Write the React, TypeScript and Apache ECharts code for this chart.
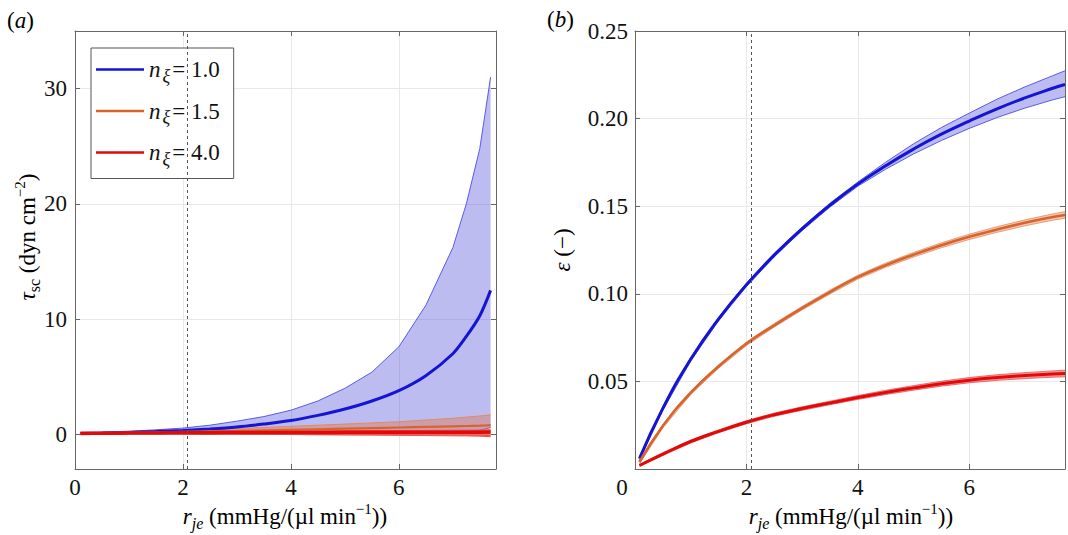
import React, { useEffect, useRef } from 'react';
import * as echarts from 'echarts';

const serif = 'Liberation Serif';

// ---------- Panel (a): wall shear stress tau_sc ----------
const rjeA = [0.1, 0.5, 1, 1.5, 2, 2.5, 3, 3.5, 4, 4.5, 5, 5.5, 6, 6.5, 7, 7.25, 7.5, 7.7];
const tauBlueMean = [0.1, 0.12, 0.17, 0.25, 0.35, 0.48, 0.65, 0.9, 1.2, 1.65, 2.2, 2.9, 3.8, 5.1, 7.0, 8.5, 10.3, 12.5];
const tauBlueUpper = [0.12, 0.18, 0.28, 0.4, 0.55, 0.8, 1.15, 1.55, 2.1, 2.9, 4.0, 5.4, 7.6, 11.2, 16.2, 20, 24.8, 31];
const tauBlueLower = [0.08, 0.09, 0.1, 0.11, 0.12, 0.13, 0.14, 0.15, 0.16, 0.17, 0.18, 0.2, 0.22, 0.25, 0.28, 0.3, 0.35, 0.6];
const tauOrangeMean = [0.1, 0.12, 0.15, 0.18, 0.22, 0.26, 0.3, 0.35, 0.4, 0.45, 0.5, 0.55, 0.6, 0.65, 0.7, 0.73, 0.76, 0.8];
const tauOrangeUpper = [0.12, 0.16, 0.22, 0.29, 0.36, 0.44, 0.52, 0.6, 0.7, 0.8, 0.9, 1.0, 1.1, 1.25, 1.4, 1.5, 1.6, 1.7];
const tauOrangeLower = [0.08, 0.07, 0.06, 0.05, 0.04, 0.03, 0.02, 0.01, 0, -0.01, -0.02, -0.03, -0.04, -0.05, -0.06, -0.07, -0.08, -0.1];
const tauRedMean = [0.08, 0.1, 0.12, 0.13, 0.14, 0.15, 0.16, 0.16, 0.17, 0.17, 0.18, 0.18, 0.18, 0.19, 0.19, 0.19, 0.19, 0.2];
const tauRedUpper = [0.1, 0.14, 0.18, 0.2, 0.22, 0.24, 0.26, 0.28, 0.3, 0.31, 0.32, 0.33, 0.34, 0.35, 0.36, 0.37, 0.38, 0.4];
const tauRedLower = [0.06, 0.06, 0.05, 0.04, 0.03, 0.02, 0.01, 0, -0.01, -0.03, -0.05, -0.06, -0.08, -0.1, -0.12, -0.13, -0.15, -0.2];

// ---------- Panel (b): strain epsilon ----------
const rjeB = [0.08, 0.5, 1, 1.5, 2, 2.5, 3, 3.5, 4, 4.5, 5, 5.5, 6, 6.5, 7, 7.5, 7.72];
const epsBlueMean = [0.006, 0.0346, 0.0626, 0.0856, 0.1051, 0.1221, 0.1371, 0.1506, 0.1626, 0.1731, 0.1826, 0.1911, 0.1986, 0.2056, 0.2118, 0.2173, 0.2195];
const epsBlueUpper = [0.007, 0.0356, 0.0636, 0.0866, 0.1061, 0.1231, 0.1381, 0.1517, 0.1638, 0.1751, 0.1856, 0.1949, 0.2031, 0.2111, 0.2181, 0.2245, 0.2273];
const epsBlueLower = [0.005, 0.0336, 0.0616, 0.0846, 0.1041, 0.1211, 0.1361, 0.1495, 0.1614, 0.1711, 0.1798, 0.1875, 0.1944, 0.2006, 0.206, 0.2107, 0.2125];
const epsOrangeMean = [0.004, 0.0245, 0.0435, 0.0585, 0.0715, 0.082, 0.0918, 0.101, 0.1095, 0.1163, 0.1223, 0.1277, 0.1325, 0.1367, 0.1405, 0.1438, 0.145];
const epsOrangeUpper = [0.005, 0.0255, 0.0445, 0.0595, 0.0725, 0.083, 0.0928, 0.1021, 0.1106, 0.1175, 0.1236, 0.1291, 0.134, 0.1383, 0.1422, 0.1456, 0.1469];
const epsOrangeLower = [0.003, 0.0235, 0.0425, 0.0575, 0.0705, 0.081, 0.0908, 0.0999, 0.1084, 0.1151, 0.121, 0.1263, 0.131, 0.1351, 0.1388, 0.142, 0.1431];
const epsRedMean = [0.002, 0.0085, 0.0157, 0.0215, 0.0267, 0.031, 0.0345, 0.0377, 0.0408, 0.0437, 0.0463, 0.0487, 0.0507, 0.0522, 0.0533, 0.0542, 0.0545];
const epsRedUpper = [0.0025, 0.0093, 0.0165, 0.0223, 0.0276, 0.0319, 0.0355, 0.0387, 0.0419, 0.0449, 0.0476, 0.0501, 0.0522, 0.0538, 0.055, 0.056, 0.0564];
const epsRedLower = [0.0015, 0.0077, 0.0149, 0.0207, 0.0258, 0.0301, 0.0335, 0.0367, 0.0397, 0.0425, 0.045, 0.0473, 0.0492, 0.0506, 0.0516, 0.0524, 0.0526];

const legendNames = ['nξ=1.0', 'nξ=1.5', 'nξ=4.0'];
const legendValues = ['1.0', '1.5', '4.0'];
const dashedX = 2.08;

const BLUE = '#1414d2';
const BLUE_EDGE = '#5a5aea';
const BLUE_FILL = 'rgba(70,70,215,0.36)';
const ORANGE = '#d8642c';
const ORANGE_EDGE = '#e58a5c';
const ORANGE_FILL = 'rgba(225,110,60,0.38)';
const RED = '#e00a0a';
const RED_EDGE = '#ee5050';
const RED_FILL = 'rgba(232,30,30,0.45)';

const rich: any = {
  i: { fontFamily: serif, fontStyle: 'italic', fontSize: 23, lineHeight: 30, color: '#111' },
  n: { fontFamily: serif, fontSize: 23, lineHeight: 30, color: '#111' },
  sub: { fontFamily: serif, fontStyle: 'italic', fontSize: 16, lineHeight: 16, verticalAlign: 'bottom', color: '#111' },
  subr: { fontFamily: serif, fontSize: 16, lineHeight: 16, verticalAlign: 'bottom', color: '#111' },
  sup: { fontFamily: serif, fontSize: 15, lineHeight: 17, verticalAlign: 'top', color: '#111' },
  lg: { fontFamily: serif, fontSize: 23, lineHeight: 30, color: '#111' },
  lgi: { fontFamily: serif, fontStyle: 'italic', fontSize: 23, lineHeight: 30, color: '#111' },
  lgs: { fontFamily: serif, fontStyle: 'italic', fontSize: 18, lineHeight: 20, verticalAlign: 'bottom', color: '#111', padding: [0, 2, 0, 2] },
};

function band(xs: number[], lo: number[], hi: number[], fill: string, edge: string, axisIdx: number, edgeWidth: number) {
  return {
    type: 'custom',
    xAxisIndex: axisIdx,
    yAxisIndex: axisIdx,
    silent: true,
    clip: true,
    data: xs.map((x, i) => [x, lo[i], hi[i]]),
    encode: { x: 0, y: [1, 2] },
    renderItem: (params: any, api: any) => {
      if (params.dataIndex !== 0) return null;
      const up = xs.map((x, i) => api.coord([x, hi[i]]));
      const dn = xs.map((x, i) => api.coord([x, lo[i]]));
      return {
        type: 'group',
        children: [
          { type: 'polygon', shape: { points: up.concat(dn.slice().reverse()) }, style: { fill, stroke: null } },
          { type: 'polyline', shape: { points: up }, style: { stroke: edge, lineWidth: edgeWidth, fill: null } },
          { type: 'polyline', shape: { points: dn }, style: { stroke: edge, lineWidth: edgeWidth, fill: null } },
        ],
      };
    },
  };
}

function meanLine(name: string, xs: number[], ys: number[], color: string, width: number, axisIdx: number, smooth: number, withMark: boolean) {
  const s: any = {
    type: 'line',
    name,
    xAxisIndex: axisIdx,
    yAxisIndex: axisIdx,
    data: xs.map((x, i) => [x, ys[i]]),
    symbol: 'none',
    showSymbol: false,
    smooth,
    lineStyle: { color, width },
    itemStyle: { color },
    silent: true,
  };
  if (withMark) {
    s.markLine = {
      silent: true,
      symbol: ['none', 'none'],
      label: { show: false },
      lineStyle: { type: [3, 3], color: '#555', width: 1 },
      data: [{ xAxis: dashedX }],
    };
  }
  return s;
}

const tickLabel = { fontFamily: serif, fontSize: 23, color: '#111' };
const axisLineStyle = { show: true, onZero: false, lineStyle: { color: '#666', width: 1 } };
const tick = { show: true, inside: true, length: 5, lineStyle: { color: '#666' } };
const grid = { show: true, lineStyle: { color: '#e8e8e8', width: 1 } };

const isMult = (v: number, m: number) => Math.abs(v / m - Math.round(v / m)) < 1e-6;

const xName = '{i|r}{sub|je}{n| (mmHg/(µl min}{sup|−1}{n|))}';

const option: any = {
  animation: false,
  backgroundColor: '#fff',
  grid: [
    { left: 75, top: 31, width: 421, height: 438 },
    { left: 635, top: 31, width: 432, height: 438 },
  ],
  xAxis: [
    { gridIndex: 0, type: 'value', min: 0, max: 7.8, interval: 2, axisLine: axisLineStyle, axisTick: tick, splitLine: grid,
      axisLabel: { ...tickLabel, margin: 7, formatter: (v: number) => (isMult(v, 2) ? String(v) : '') } },
    { gridIndex: 0, type: 'value', position: 'top', min: 0, max: 7.8, interval: 2, axisLine: axisLineStyle, axisTick: tick, splitLine: { show: false }, axisLabel: { show: false } },
    { gridIndex: 1, type: 'value', min: 0, max: 7.72, interval: 2, axisLine: axisLineStyle, axisTick: tick, splitLine: grid,
      axisLabel: { ...tickLabel, margin: 7, formatter: (v: number) => (v !== 0 && isMult(v, 2) ? String(v) : '') } },
    { gridIndex: 1, type: 'value', position: 'top', min: 0, max: 7.72, interval: 2, axisLine: axisLineStyle, axisTick: tick, splitLine: { show: false }, axisLabel: { show: false } },
  ],
  yAxis: [
    { gridIndex: 0, type: 'value', min: -3, max: 35, splitNumber: 4, axisLine: axisLineStyle, axisTick: tick, splitLine: grid,
      axisLabel: { ...tickLabel, margin: 8, formatter: (v: number) => (isMult(v, 10) ? String(v) : '') } },
    { gridIndex: 0, type: 'value', position: 'right', min: -3, max: 35, splitNumber: 4, axisLine: axisLineStyle, axisTick: tick, splitLine: { show: false }, axisLabel: { show: false } },
    { gridIndex: 1, type: 'value', min: 0, max: 0.25, interval: 0.05, axisLine: axisLineStyle, axisTick: tick, splitLine: grid,
      axisLabel: { ...tickLabel, margin: 7, formatter: (v: number) => (v === 0 ? '' : v.toFixed(2)) } },
    { gridIndex: 1, type: 'value', position: 'right', min: 0, max: 0.25, interval: 0.05, axisLine: axisLineStyle, axisTick: tick, splitLine: { show: false }, axisLabel: { show: false } },
  ],
  legend: {
    left: 91,
    top: 48,
    orient: 'vertical',
    padding: [10, 14, 11, 5],
    itemGap: 15,
    itemWidth: 48,
    itemHeight: 2.5,
    icon: 'rect',
    borderColor: '#555',
    borderWidth: 1,
    backgroundColor: '#fff',
    selectedMode: false,
    data: legendNames,
    formatter: (name: string) => {
      const idx = legendNames.indexOf(name);
      return '{lgi|n}{lgs|ξ}{lg|= ' + legendValues[idx] + '}';
    },
    textStyle: { fontFamily: serif, fontSize: 23, color: '#111', rich },
  },
  graphic: [
    { type: 'text', left: 7, top: 9, style: { text: '{n|(}{i|a}{n|)}', rich, fontFamily: serif, fontSize: 23 } },
    { type: 'text', left: 547, top: 8, style: { text: '{n|(}{i|b}{n|)}', rich, fontFamily: serif, fontSize: 23 } },
    { type: 'text', x: 622, y: 487, style: { text: '0', fontFamily: serif, fontSize: 23, fill: '#111', align: 'center', verticalAlign: 'middle' } },
    { type: 'text', x: 285, y: 516, style: { text: xName, rich, align: 'center', verticalAlign: 'middle', fontFamily: serif, fontSize: 23 } },
    { type: 'text', x: 851, y: 516, style: { text: xName, rich, align: 'center', verticalAlign: 'middle', fontFamily: serif, fontSize: 23 } },
    { type: 'text', x: 27, y: 237, rotation: Math.PI / 2, style: { text: '{i|τ}{subr|sc}{n| (dyn cm}{sup|−2}{n|)}', rich, align: 'center', verticalAlign: 'middle', fontFamily: serif, fontSize: 23 } },
    { type: 'text', x: 562, y: 250, rotation: Math.PI / 2, style: { text: '{i|ε}{n| (−)}', rich, align: 'center', verticalAlign: 'middle', fontFamily: serif, fontSize: 23 } },
  ],
  series: [
    band(rjeA, tauBlueLower, tauBlueUpper, BLUE_FILL, BLUE_EDGE, 0, 1),
    meanLine(legendNames[0], rjeA, tauBlueMean, BLUE, 3, 0, 0.3, true),
    band(rjeA, tauOrangeLower, tauOrangeUpper, ORANGE_FILL, ORANGE_EDGE, 0, 1),
    meanLine(legendNames[1], rjeA, tauOrangeMean, ORANGE, 2.2, 0, 0.3, false),
    band(rjeA, tauRedLower, tauRedUpper, RED_FILL, RED_EDGE, 0, 1),
    meanLine(legendNames[2], rjeA, tauRedMean, RED, 3.5, 0, 0.3, false),

    band(rjeB, epsBlueLower, epsBlueUpper, BLUE_FILL, BLUE_EDGE, 2, 1),
    meanLine('b-1.0', rjeB, epsBlueMean, BLUE, 3, 2, 0.5, true),
    band(rjeB, epsOrangeLower, epsOrangeUpper, ORANGE_FILL, ORANGE_EDGE, 2, 0.8),
    meanLine('b-1.5', rjeB, epsOrangeMean, ORANGE, 2.6, 2, 0.5, false),
    band(rjeB, epsRedLower, epsRedUpper, RED_FILL, RED_EDGE, 2, 0.8),
    meanLine('b-4.0', rjeB, epsRedMean, RED, 3, 2, 0.5, false),
  ],
};

export default function App() {
  const ref = useRef<HTMLDivElement>(null);
  useEffect(() => {
    const chart = echarts.init(ref.current as HTMLDivElement, null, { renderer: 'svg' });
    chart.setOption(option);
    return () => chart.dispose();
  }, []);
  return (
    <div
      ref={ref}
      style={{ position: 'fixed', left: 0, top: 0, width: 1068, height: 535, background: '#fff' }}
    />
  );
}
